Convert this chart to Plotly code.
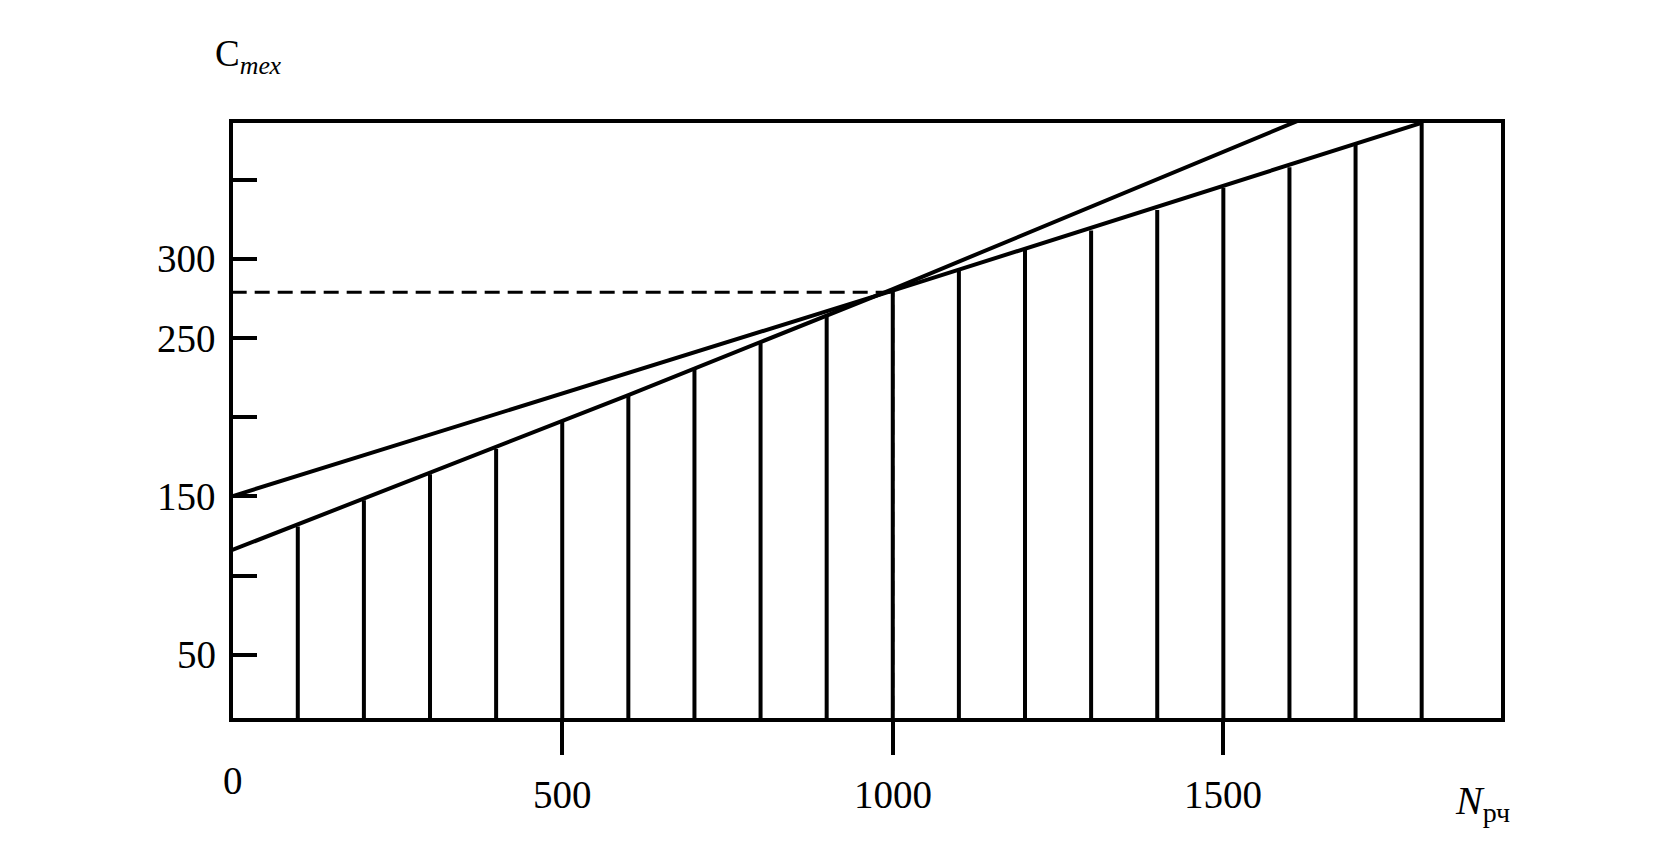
import plotly.graph_objects as go

# ---- data ----
bar_x = [100, 200, 300, 400, 500, 600, 700, 800, 900, 1000,
         1100, 1200, 1300, 1400, 1500, 1600, 1700, 1800]
bar_top = [131, 147.5, 164, 180, 198, 214, 231, 248, 265, 281,
           293, 306, 318, 331, 345, 358, 372, 386]

lineA_x = [0, 600, 1000, 1500, 1640]
lineA_y = [116, 214, 281, 368, 392]

lineB_x = [0, 1000, 1800]
lineB_y = [150, 280, 386]

cross_x = 1000
cross_y = 279

x_ticks = [500, 1000, 1500]
x_tick_labels = ["500", "1000", "1500"]
x_origin_label = "0"
y_ticks = [50, 100, 150, 200, 250, 300, 350]
y_label_vals = [50, 150, 250, 300]
y_label_text = ["50", "150", "250", "300"]

X_RANGE = [2, 1920]
Y_RANGE = [10, 385.9]

FONT = "Liberation Serif, Times New Roman, serif"
LW = 4.0
FRAME_W = 4.2

fig = go.Figure()

# vertical hatching bars
vx, vy = [], []
for x, t in zip(bar_x, bar_top):
    vx += [x, x, None]
    vy += [0, t, None]
fig.add_trace(go.Scatter(x=vx, y=vy, mode="lines",
                         line=dict(color="black", width=LW),
                         hoverinfo="skip", showlegend=False))

# the two straight lines
fig.add_trace(go.Scatter(x=lineA_x, y=lineA_y, mode="lines",
                         line=dict(color="black", width=LW),
                         showlegend=False))
fig.add_trace(go.Scatter(x=lineB_x, y=lineB_y, mode="lines",
                         line=dict(color="black", width=LW),
                         showlegend=False))

# dashed guides to the crossing point
fig.add_trace(go.Scatter(x=[0, cross_x], y=[cross_y, cross_y], mode="lines",
                         line=dict(color="black", width=3, dash="15px,8px"),
                         showlegend=False))
fig.add_trace(go.Scatter(x=[cross_x, cross_x], y=[0, cross_y], mode="lines",
                         line=dict(color="black", width=3, dash="15px,8px"),
                         showlegend=False))

annotations = []
for v, t in zip(x_ticks, x_tick_labels):
    annotations.append(dict(x=v, y=-0.128, xref="x", yref="paper", text=t,
                            showarrow=False, xanchor="center", yanchor="middle",
                            font=dict(family=FONT, size=39, color="black")))
annotations.append(dict(x=0.0, y=-0.105, xref="paper", yref="paper",
                        text=x_origin_label,
                        showarrow=False, xanchor="center", yanchor="middle",
                        font=dict(family=FONT, size=39, color="black")))
for v, t in zip(y_label_vals, y_label_text):
    annotations.append(dict(x=-0.0115, y=v, xref="paper", yref="y", text=t,
                            showarrow=False, xanchor="right", yanchor="middle",
                            font=dict(family=FONT, size=39, color="black")))
annotations.append(dict(x=-0.016, y=1.112, xref="paper", yref="paper",
                        text="C<sub><i>тех</i></sub>",
                        showarrow=False, xanchor="left", yanchor="middle",
                        font=dict(family=FONT, size=37, color="black")))
annotations.append(dict(x=0.962, y=-0.143, xref="paper", yref="paper",
                        text="<i>N</i><sub>рч</sub>",
                        showarrow=False, xanchor="left", yanchor="middle",
                        font=dict(family=FONT, size=40, color="black")))

fig.update_layout(
    width=1656, height=857,
    margin=dict(l=225, r=163, t=115, b=147),
    paper_bgcolor="white", plot_bgcolor="white",
    showlegend=False,
    annotations=annotations,
    xaxis=dict(range=X_RANGE, showgrid=False, zeroline=False,
               showline=True, linecolor="black", linewidth=FRAME_W, mirror=True,
               ticks="outside", tickvals=x_ticks, ticklen=33, tickwidth=3.5,
               tickcolor="black", showticklabels=False),
    yaxis=dict(range=Y_RANGE, showgrid=False, zeroline=False,
               showline=True, linecolor="black", linewidth=FRAME_W, mirror=True,
               ticks="inside", tickvals=y_ticks, ticklen=24, tickwidth=3.5,
               tickcolor="black", showticklabels=False),
)

fig.write_html("out.html")
